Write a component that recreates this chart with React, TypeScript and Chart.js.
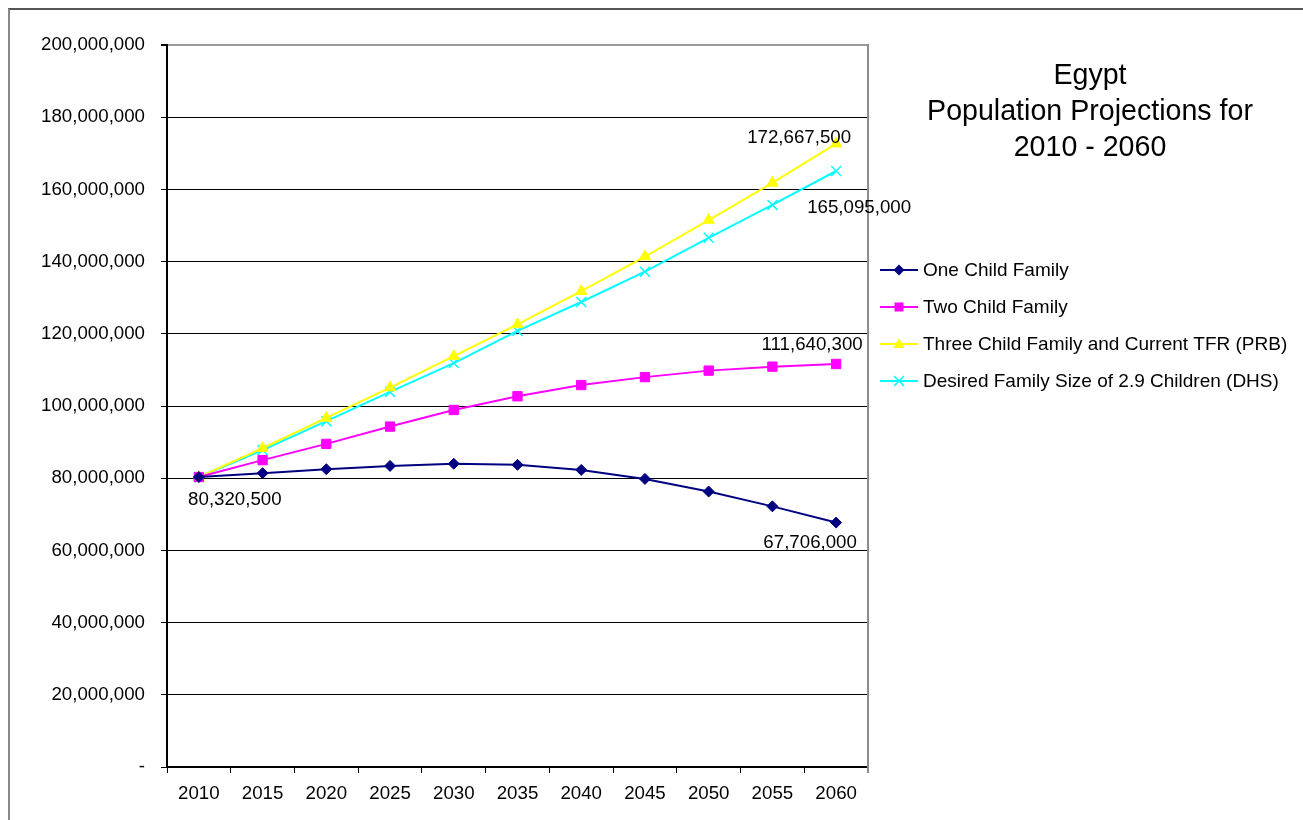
import React, { useEffect, useRef } from "react";
import { Chart, registerables } from "chart.js";

Chart.register(...registerables);

const years = ["2010", "2015", "2020", "2025", "2030", "2035", "2040", "2045", "2050", "2055", "2060"];
const oneChild = [80320500, 81400000, 82500000, 83400000, 84000000, 83700000, 82300000, 79800000, 76300000, 72200000, 67706000];
const twoChild = [80320500, 85000000, 89500000, 94300000, 98900000, 102700000, 105800000, 108000000, 109800000, 110900000, 111640300];
const threeChild = [80320500, 88300000, 96700000, 105100000, 113800000, 122600000, 131800000, 141400000, 151500000, 161800000, 172667500];
const desired = [80320500, 87800000, 95800000, 103900000, 111900000, 120800000, 128800000, 137200000, 146600000, 155700000, 165095000];
const seriesNames = [
  "One Child Family",
  "Two Child Family",
  "Three Child Family and Current TFR (PRB)",
  "Desired Family Size of 2.9 Children (DHS)",
];
const titleLines = ["Egypt", "Population Projections for", "2010 - 2060"];

const FONT = "'Liberation Sans', Arial, sans-serif";
const fmt = (v: number) => v.toLocaleString("en-US");

// [datasetIndex, pointIndex, dx, dy]
const labelSpecs: [number, number, number, number][] = [
  [0, 0, 36, 23],
  [2, 10, -37, -6],
  [3, 10, 23, 37],
  [1, 10, -24, -19],
  [0, 10, -26, 20],
];

function drawMarker(ctx: CanvasRenderingContext2D, style: string, x: number, y: number, color: string) {
  ctx.save();
  ctx.fillStyle = color;
  ctx.strokeStyle = color;
  ctx.beginPath();
  if (style === "rectRot") {
    ctx.moveTo(x, y - 5.5);
    ctx.lineTo(x + 5.5, y);
    ctx.lineTo(x, y + 5.5);
    ctx.lineTo(x - 5.5, y);
    ctx.closePath();
    ctx.fill();
  } else if (style === "rect") {
    ctx.rect(x - 4.5, y - 4.5, 9, 9);
    ctx.fill();
  } else if (style === "triangle") {
    ctx.moveTo(x, y - 6);
    ctx.lineTo(x + 5.5, y + 4);
    ctx.lineTo(x - 5.5, y + 4);
    ctx.closePath();
    ctx.fill();
  } else {
    ctx.lineWidth = 1.5;
    ctx.moveTo(x - 5, y - 5);
    ctx.lineTo(x + 5, y + 5);
    ctx.moveTo(x + 5, y - 5);
    ctx.lineTo(x - 5, y + 5);
    ctx.stroke();
  }
  ctx.restore();
}

const overlayPlugin = {
  id: "overlay",
  afterDatasetsDraw(chart: any) {
    const ctx: CanvasRenderingContext2D = chart.ctx;
    const area = chart.chartArea;
    ctx.save();
    // right plot border
    ctx.strokeStyle = "#8c8c8c";
    ctx.lineWidth = 2;
    ctx.beginPath();
    ctx.moveTo(area.right, area.top - 1);
    ctx.lineTo(area.right, area.bottom + 6);
    ctx.stroke();

    // data labels
    ctx.fillStyle = "#000";
    ctx.font = `18.7px ${FONT}`;
    ctx.textAlign = "center";
    ctx.textBaseline = "middle";
    labelSpecs.forEach(([di, pi, dx, dy]) => {
      const pt = chart.getDatasetMeta(di).data[pi];
      const v = chart.data.datasets[di].data[pi] as number;
      ctx.fillText(fmt(v), pt.x + dx, pt.y + dy);
    });

    // title
    ctx.font = `28.6px ${FONT}`;
    ctx.textBaseline = "alphabetic";
    const tx = 1080;
    titleLines.forEach((t, i) => ctx.fillText(t, tx, 74 + i * 36));

    // legend
    ctx.textAlign = "left";
    ctx.textBaseline = "middle";
    ctx.font = `19px ${FONT}`;
    chart.data.datasets.forEach((ds: any, i: number) => {
      const y = 260 + i * 37;
      ctx.strokeStyle = ds.borderColor;
      ctx.lineWidth = 2;
      ctx.beginPath();
      ctx.moveTo(870, y);
      ctx.lineTo(908, y);
      ctx.stroke();
      drawMarker(ctx, ds.pointStyle, 889, y, ds.borderColor);
      ctx.fillStyle = "#000";
      ctx.fillText(seriesNames[i], 913, y + 1);
    });
    ctx.restore();
  },
};

export default function App() {
  const ref = useRef<HTMLCanvasElement | null>(null);
  useEffect(() => {
    if (!ref.current) return;
    const mk = (label: string, data: number[], color: string, style: string, radius: number) => ({
      label,
      data,
      borderColor: color,
      backgroundColor: color,
      pointBackgroundColor: color,
      pointBorderColor: color,
      pointStyle: style,
      pointRadius: radius,
      pointBorderWidth: style === "crossRot" ? 1.5 : 1,
      borderWidth: 2,
      tension: 0,
    });
    const chart = new Chart(ref.current, {
      type: "line",
      data: {
        labels: years,
        datasets: [
          mk(seriesNames[0], oneChild, "#000080", "rectRot", 5.5),
          mk(seriesNames[1], twoChild, "#FF00FF", "rect", 6.6),
          mk(seriesNames[2], threeChild, "#FFFF00", "triangle", 6.5),
          mk(seriesNames[3], desired, "#00FFFF", "crossRot", 7),
        ] as any,
      },
      options: {
        animation: false,
        responsive: false,
        events: [],
        layout: { padding: { top: 35, right: 435, bottom: 0, left: 0 } },
        plugins: { legend: { display: false }, title: { display: false }, tooltip: { enabled: false } },
        scales: {
          x: {
            type: "category",
            offset: true,
            grid: {
              offset: true,
              drawOnChartArea: false,
              drawTicks: true,
              tickLength: 6,
              color: "#000",
              lineWidth: 1,
            },
            border: { display: true, color: "#000", width: 2 },
            ticks: { color: "#000", font: { size: 18.7, family: FONT }, padding: 10, maxRotation: 0, autoSkip: false },
            afterFit: (s: any) => {
              s.height = 53;
            },
          },
          y: {
            min: 0,
            max: 200000000,
            grid: {
              color: (c: any) => (c.tick && c.tick.value === 200000000 ? "#9a9a9a" : "#000"),
              lineWidth: (c: any) => (c.tick && c.tick.value === 200000000 ? 2 : 1),
              tickLength: 6,
              tickColor: "#000",
            },
            border: { display: true, color: "#000", width: 2 },
            ticks: {
              stepSize: 20000000,
              color: "#000",
              padding: 16,
              font: { size: 18.7, family: FONT },
              callback: (v: any) => (Number(v) === 0 ? "-" : fmt(Number(v))),
            },
            afterFit: (s: any) => {
              s.width = 157;
            },
          },
        },
      } as any,
      plugins: [overlayPlugin],
    });
    return () => chart.destroy();
  }, []);
  return (
    <div
      style={{
        position: "fixed",
        left: 8,
        top: 8,
        width: 1293,
        height: 810,
        borderTop: "2px solid #555",
        borderLeft: "2px solid #888",
        background: "#fff",
      }}
    >
      <canvas ref={ref} width={1293} height={810} style={{ display: "block" }} />
    </div>
  );
}
